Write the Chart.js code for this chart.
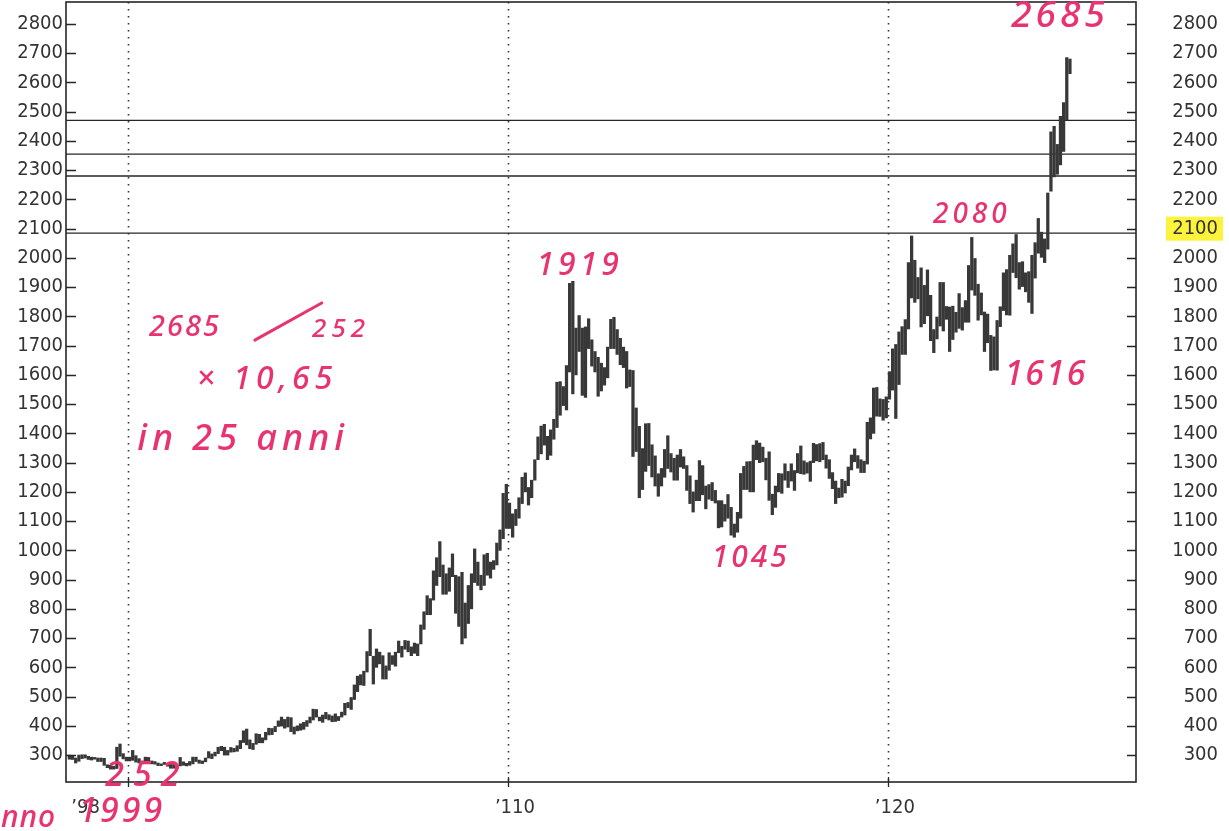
<!DOCTYPE html>
<html>
<head>
<meta charset="utf-8">
<script src="https://cdn.jsdelivr.net/npm/chart.js@4.4.0/dist/chart.umd.min.js"></script>
<style>
  html, body { margin: 0; padding: 0; background: #fff; }
  #wrap { width: 1229px; height: 831px; }
</style>
</head>
<body>
<div id="wrap"><canvas id="goldChart"></canvas></div>
<script>
// Gold, monthly low / high (USD/oz), from June 1998 to October 2024
const startYear = 1998
const startMonth = 6

const lows = [
  286, 285, 273, 279, 288, 290, 285,
  283, 286, 278, 278, 265, 257, 252, 252, 254, 296, 287, 280,
  280, 282, 276, 273, 270, 272, 275, 270, 269, 264, 264, 268,
  262, 255, 255, 254, 263, 265, 263, 265, 270, 278, 272, 271,
  277, 290, 288, 297, 305, 315, 300, 300, 310, 311, 313, 322,
  343, 335, 322, 319, 337, 342, 342, 352, 369, 370, 380, 398,
  399, 392, 396, 380, 372, 383, 385, 388, 398, 410, 420, 430,
  417, 412, 424, 420, 414, 415, 418, 430, 437, 462, 456, 490,
  517, 540, 538, 584, 640, 543, 600, 612, 560, 560, 590, 610,
  604, 650, 635, 662, 653, 640, 648, 640, 680, 730, 780, 780,
  830, 880, 910, 850, 850, 860, 910, 785, 740, 680, 700, 750,
  800, 890, 880, 865, 880, 915, 905, 935, 950, 1000, 1040, 1075,
  1075, 1045, 1085, 1110, 1160, 1200, 1155, 1180, 1240, 1310, 1330, 1360,
  1310, 1325, 1380, 1420, 1462, 1495, 1480, 1610, 1535, 1600, 1680, 1530,
  1523, 1690, 1630, 1610, 1527, 1545, 1565, 1590, 1690, 1690, 1670, 1635,
  1625, 1555, 1560, 1321, 1338, 1180, 1208, 1270, 1290, 1251, 1220, 1185,
  1220, 1250, 1280, 1268, 1240, 1240, 1285, 1280, 1205, 1160, 1131, 1170,
  1170, 1190, 1142, 1175, 1170, 1162, 1077, 1080, 1100, 1110, 1052, 1045,
  1062, 1110, 1208, 1208, 1200, 1200, 1310, 1300, 1303, 1241, 1171, 1122,
  1147, 1200, 1195, 1240, 1215, 1237, 1205, 1265, 1262, 1260, 1264, 1236,
  1300, 1306, 1303, 1310, 1281, 1246, 1211, 1160, 1180, 1182, 1196, 1221,
  1275, 1303, 1281, 1266, 1266, 1295, 1381, 1400, 1459, 1458, 1445, 1453,
  1517, 1548, 1451, 1567, 1670, 1670, 1757, 1863, 1848, 1860, 1764, 1775,
  1802, 1717, 1676, 1723, 1767, 1750, 1790, 1680, 1721, 1746, 1759, 1753,
  1780, 1780, 1890, 1872, 1787, 1805, 1680, 1710, 1615, 1617, 1616, 1765,
  1820, 1805, 1804, 1950, 1932, 1893, 1902, 1884, 1848, 1810, 1931, 2016,
  2002, 1984, 2030, 2228, 2277, 2286, 2318, 2364, 2472, 2630,
]

const highs = [
  300, 296, 290, 300, 301, 301, 296,
  293, 292, 290, 290, 289, 267, 265, 262, 327, 338, 305, 293,
  293, 316, 298, 288, 280, 293, 292, 280, 278, 273, 270, 275,
  272, 268, 268, 265, 292, 277, 272, 278, 293, 293, 283, 280,
  290, 312, 304, 310, 327, 330, 327, 316, 326, 323, 332, 350,
  383, 389, 352, 340, 373, 371, 359, 378, 392, 391, 398, 417,
  430, 422, 430, 428, 396, 400, 407, 412, 418, 430, 457, 456,
  430, 437, 446, 438, 434, 441, 432, 447, 477, 480, 497, 540,
  570, 575, 587, 654, 730, 638, 663, 652, 640, 605, 650, 640,
  652, 690, 672, 692, 690, 670, 683, 680, 745, 790, 845, 835,
  930, 975, 1030, 950, 920, 940, 988, 915, 910, 925, 820, 880,
  920, 1005, 960, 915, 985, 990, 960, 965, 1025, 1070, 1195, 1226,
  1162, 1125, 1140, 1180, 1250, 1265, 1215, 1240, 1310, 1388, 1425, 1431,
  1390, 1412, 1448, 1575, 1577, 1560, 1632, 1913, 1920, 1760, 1803, 1760,
  1764, 1792, 1720, 1680, 1660, 1640, 1625, 1695, 1790, 1797, 1755, 1725,
  1695, 1680, 1617, 1615, 1487, 1424, 1348, 1433, 1434, 1361, 1323, 1262,
  1280, 1345, 1392, 1331, 1315, 1326, 1345, 1320, 1290, 1255, 1200, 1240,
  1307, 1290, 1220, 1225, 1232, 1205, 1170, 1170, 1157, 1191, 1147, 1090,
  1130, 1263, 1287, 1303, 1304, 1360, 1375, 1367, 1353, 1315, 1337, 1192,
  1220, 1263, 1262, 1296, 1270, 1296, 1273, 1331, 1357, 1306, 1300, 1305,
  1366, 1362, 1365, 1369, 1326, 1310, 1266, 1237, 1213, 1243, 1237, 1285,
  1326, 1347, 1324, 1310, 1305, 1438, 1453, 1555, 1557, 1518, 1516, 1525,
  1611, 1689, 1704, 1747, 1765, 1789, 1984, 2075, 1992, 1933, 1966, 1906,
  1959, 1872, 1755, 1798, 1916, 1916, 1834, 1832, 1835, 1814, 1878, 1830,
  1854, 1974, 2070, 1998, 1910, 1880, 1815, 1808, 1735, 1730, 1786, 1833,
  1949, 1960, 2009, 2048, 2080, 1984, 1987, 1949, 1953, 2009, 2052, 2135,
  2088, 2065, 2222, 2431, 2450, 2388, 2484, 2531, 2685, 2680,
]

// horizontal resistance lines drawn across the chart
const levels = [2470, 2355, 2280, 2085]

// axis ticks
const yTicks = [300, 400, 500, 600, 700, 800, 900, 1000, 1100, 1200, 1300, 1400, 1500,
  1600, 1700, 1800, 1900, 2000, 2100, 2200, 2300, 2400, 2500, 2600, 2700, 2800]
const xTickValues = [1998.7, 2010, 2020]
const xTickLabels = ['\u201998', '\u2019110', '\u2019120']
const gridYears = [2000, 2010, 2020]
const highlightTick = 2100

// handwritten notes (data coordinates)
const notes = [
  { text: '2685', x: 2024.53, y: 2827, size: 37, spacing: 4 },
  { text: '1919', x: 2011.89, y: 1972, size: 32, spacing: 4 },
  { text: '2080', x: 2022.21, y: 2147, size: 28, spacing: 4 },
  { text: '1616', x: 2024.16, y: 1600, size: 34, spacing: 2 },
  { text: '1045', x: 2016.39, y: 971, size: 30, spacing: 3 },
  { text: '252', x: 2000.5, y: 229, size: 34, spacing: 9 },
  { text: '1999', x: 1999.84, y: 105, size: 34, spacing: 3 },
  { text: 'anno', x: 1998.11, y: 85, size: 30, spacing: 1, align: 'right' },
  { text: '2685', x: 2001.5, y: 1760, size: 29, spacing: 2 },
  { text: '252', x: 2005.61, y: 1754, size: 26, spacing: 5 },
  { text: '\u00d7 10,65', x: 2003.66, y: 1583, size: 32, spacing: 5 },
  { text: 'in 25 anni', x: 2003.03, y: 1377, size: 36, spacing: 5 },
]
const slash = [{ x: 2003.34, y: 1719 }, { x: 2005.1, y: 1846 }]

const xMin = 1998.37
const xMax = 2026.53
const yMin = 208
const yMax = 2875

const months = lows.map((_, i) => startYear + (startMonth - 1 + i + 0.5) / 12)

const labelFont = { family: '"DejaVu Sans Condensed", "DejaVu Sans"', size: 20 }
const inkColor = '#262626'
const penColor = '#e8336e'

const levelSets = levels.map(lvl => ({
  type: 'line',
  data: [{ x: xMin, y: lvl }, { x: xMax, y: lvl }],
  borderColor: inkColor,
  borderWidth: 1.3,
  pointRadius: 0,
  yAxisID: 'y',
}))

// no edge padding from the tick labels, the frame sits at fixed place
function noPad(s) {
  s.paddingTop = 0
  s.paddingBottom = 0
  s.paddingLeft = 0
  s.paddingRight = 0
}

const paperMarks = {
  id: 'paperMarks',
  beforeDraw(chart) {
    const { ctx } = chart
    ctx.save()
    ctx.fillStyle = '#fff'
    ctx.fillRect(0, 0, chart.width, chart.height)
    // yellow marker behind the right 2100 label
    const y2 = chart.scales.y2
    const yy = y2.getPixelForValue(highlightTick)
    ctx.fillStyle = '#fbf33c'
    ctx.fillRect(chart.chartArea.right + 30, yy - 12, 57, 24)
    ctx.restore()
  },
  beforeDatasetsDraw(chart) {
    const { ctx, chartArea } = chart
    const x = chart.scales.x
    ctx.save()
    ctx.strokeStyle = '#333'
    ctx.lineWidth = 1.6
    ctx.setLineDash([1.6, 5.4])
    gridYears.forEach(yr => {
      const px = Math.round(x.getPixelForValue(yr)) + 0.5
      ctx.beginPath()
      ctx.moveTo(px, chartArea.top)
      ctx.lineTo(px, chartArea.bottom)
      ctx.stroke()
    })
    ctx.restore()
  },
  afterDraw(chart) {
    const { ctx, chartArea } = chart
    const y = chart.scales.y
    const x = chart.scales.x
    ctx.save()
    // frame
    ctx.strokeStyle = inkColor
    ctx.lineWidth = 1.6
    ctx.strokeRect(chartArea.left, chartArea.top, chartArea.right - chartArea.left, chartArea.bottom - chartArea.top)
    // inward tick marks
    ctx.lineWidth = 1.3
    yTicks.forEach(v => {
      const py = Math.round(y.getPixelForValue(v)) + 0.5
      ctx.beginPath()
      ctx.moveTo(chartArea.left, py)
      ctx.lineTo(chartArea.left + 10, py)
      ctx.moveTo(chartArea.right - 9, py)
      ctx.lineTo(chartArea.right, py)
      ctx.stroke()
    })
    gridYears.forEach(yr => {
      const px = Math.round(x.getPixelForValue(yr)) + 0.5
      ctx.beginPath()
      ctx.moveTo(px, chartArea.bottom - 5)
      ctx.lineTo(px, chartArea.bottom + 5)
      ctx.stroke()
    })

    // handwritten notes
    ctx.fillStyle = penColor
    ctx.strokeStyle = penColor
    ctx.textBaseline = 'middle'
    notes.forEach(n => {
      ctx.font = `italic 500 ${n.size}px "Noto Sans"`
      ctx.letterSpacing = `${n.spacing}px`
      ctx.textAlign = n.align || 'center'
      ctx.fillText(n.text, x.getPixelForValue(n.x), y.getPixelForValue(n.y))
    })
    ctx.lineWidth = 3
    ctx.lineCap = 'round'
    ctx.beginPath()
    ctx.moveTo(x.getPixelForValue(slash[0].x), y.getPixelForValue(slash[0].y))
    ctx.lineTo(x.getPixelForValue(slash[1].x), y.getPixelForValue(slash[1].y))
    ctx.stroke()
    ctx.restore()
  },
}

const ctx = document.getElementById('goldChart').getContext('2d')
const goldChart = new Chart(ctx, {
  data: {
    datasets: [
      {
        type: 'bar',
        data: months.map((m, i) => ({ x: m, y: [lows[i], highs[i]] })),
        backgroundColor: '#383838',
        borderWidth: 0,
        barThickness: 2.6,
        yAxisID: 'y',
      },
      ...levelSets,
    ],
  },
  options: {
    responsive: true,
    maintainAspectRatio: false,
    animation: false,
    layout: { padding: { top: 2, left: 0, right: 11, bottom: 0 } },
    plugins: {
      legend: { display: false },
      tooltip: { enabled: false },
    },
    scales: {
      x: {
        type: 'linear',
        min: xMin,
        max: xMax,
        offset: false,
        grid: { display: false, offset: false, drawTicks: false },
        border: { display: false },
        afterBuildTicks: (s) => { s.ticks = xTickValues.map(v => ({ value: v })) },
        afterFit: (s) => { s.height = 49; noPad(s) },
        ticks: {
          autoSkip: false,
          maxRotation: 0,
          labelOffset: 7,
          padding: 14,
          font: labelFont,
          color: '#333',
          callback: (v, i) => xTickLabels[i],
        },
      },
      y: {
        type: 'linear',
        position: 'left',
        min: yMin,
        max: yMax,
        grid: { display: false, drawTicks: false },
        border: { display: false },
        afterBuildTicks: (s) => { s.ticks = yTicks.map(v => ({ value: v })) },
        afterFit: (s) => { s.width = 66; noPad(s) },
        ticks: {
          autoSkip: false,
          padding: 3,
          font: labelFont,
          color: '#333',
          callback: (v) => String(v),
        },
      },
      y2: {
        type: 'linear',
        position: 'right',
        min: yMin,
        max: yMax,
        grid: { display: false, drawTicks: false },
        border: { display: false },
        afterBuildTicks: (s) => { s.ticks = yTicks.map(v => ({ value: v })) },
        afterFit: (s) => { s.width = 82; noPad(s) },
        ticks: {
          autoSkip: false,
          padding: 34,
          crossAlign: 'far',
          font: labelFont,
          color: '#333',
          callback: (v) => String(v),
        },
      },
    },
  },
  plugins: [paperMarks],
})
</script>
</body>
</html>
